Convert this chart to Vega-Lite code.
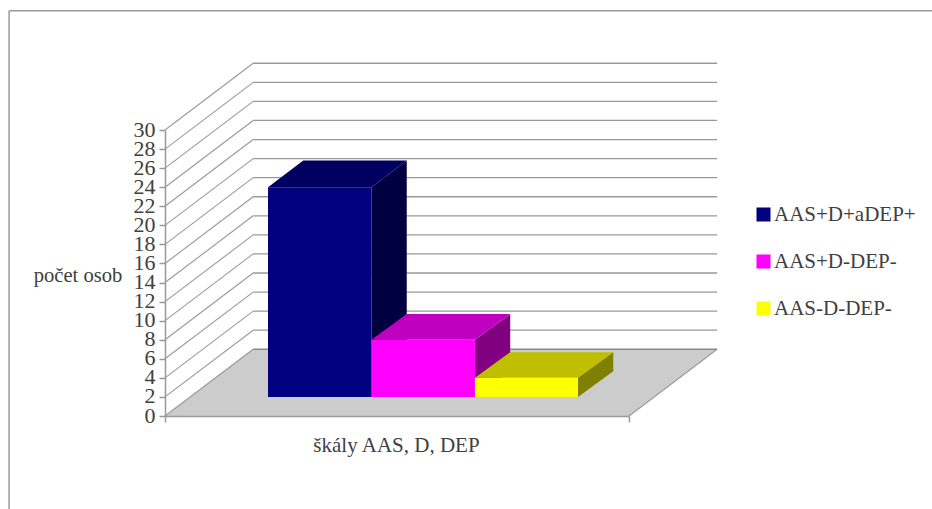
{
  "$schema": "https://vega.github.io/schema/vega-lite/v6.json",
  "width": 464,
  "height": 286,
  "autosize": {"type": "none"},
  "padding": {"left": 165, "top": 130, "right": 303, "bottom": 93},
  "background": "white",
  "config": {
    "view": {"stroke": null},
    "font": "Liberation Serif"
  },
  "datasets": {
    "bars": [
      {"series": "AAS+D+aDEP+", "value": 22, "from": 22.2, "to": 44.5},
      {"series": "AAS+D-DEP-", "value": 6, "from": 44.5, "to": 66.8},
      {"series": "AAS-D-DEP-", "value": 2, "from": 66.8, "to": 89}
    ],
    "faces": [
      {"face": "blue side", "along": 44.5, "low": 0, "high": 22},
      {"face": "blue side", "along": 52.1, "low": 2.7, "high": 24.8},
      {"face": "blue top", "along": 22.2, "low": 22, "high": 22},
      {"face": "blue top", "along": 29.8, "low": 22, "high": 24.8},
      {"face": "blue top", "along": 44.5, "low": 22, "high": 24.8},
      {"face": "blue top", "along": 52.1, "low": 24.8, "high": 24.8},
      {"face": "magenta side", "along": 66.8, "low": 0, "high": 6},
      {"face": "magenta side", "along": 74.4, "low": 2.7, "high": 8.7},
      {"face": "magenta top", "along": 44.5, "low": 6, "high": 6},
      {"face": "magenta top", "along": 52.1, "low": 6, "high": 8.7},
      {"face": "magenta top", "along": 66.8, "low": 6, "high": 8.7},
      {"face": "magenta top", "along": 74.4, "low": 8.7, "high": 8.7},
      {"face": "yellow side", "along": 89, "low": 0, "high": 2},
      {"face": "yellow side", "along": 96.6, "low": 2.7, "high": 4.7},
      {"face": "yellow top", "along": 66.8, "low": 2, "high": 2},
      {"face": "yellow top", "along": 74.4, "low": 2, "high": 4.7},
      {"face": "yellow top", "along": 89, "low": 2, "high": 4.7},
      {"face": "yellow top", "along": 96.6, "low": 4.7, "high": 4.7}
    ],
    "floor": [
      {"along": 0, "low": 0, "high": 0},
      {"along": 19, "low": 0, "high": 7},
      {"along": 100, "low": 0, "high": 7},
      {"along": 119, "low": 7, "high": 7}
    ],
    "levels": [
      {"level": 0, "back": 7},
      {"level": 2, "back": 9},
      {"level": 4, "back": 11},
      {"level": 6, "back": 13},
      {"level": 8, "back": 15},
      {"level": 10, "back": 17},
      {"level": 12, "back": 19},
      {"level": 14, "back": 21},
      {"level": 16, "back": 23},
      {"level": 18, "back": 25},
      {"level": 20, "back": 27},
      {"level": 22, "back": 29},
      {"level": 24, "back": 31},
      {"level": 26, "back": 33},
      {"level": 28, "back": 35},
      {"level": 30, "back": 37}
    ],
    "frame": [
      {"x1": -33.6, "x2": 166, "y1": 42.5, "y2": 42.5},
      {"x1": -33.6, "x2": -33.6, "y1": 42.5, "y2": -10}
    ]
  },
  "layer": [
    {
      "description": "Outer frame of the drawing",
      "data": {"name": "frame"},
      "mark": {"type": "rule", "color": "#999999", "strokeWidth": 1.5},
      "encoding": {
        "x": {"field": "x1", "type": "quantitative", "scale": {"domain": [0, 100], "nice": false, "zero": false}, "axis": null},
        "x2": {"field": "x2"},
        "y": {"field": "y1", "type": "quantitative", "scale": {"domain": [0, 30], "nice": false, "zero": false}, "axis": null},
        "y2": {"field": "y2"}
      }
    },
    {
      "description": "Floor of the box, carrying both axes",
      "data": {"name": "floor"},
      "mark": {"type": "area", "orient": "vertical", "color": "#CCCCCC"},
      "encoding": {
        "x": {
          "field": "along",
          "type": "quantitative",
          "scale": {"domain": [0, 100], "nice": false, "zero": false},
          "axis": {
            "title": "škály AAS, D, DEP",
            "titleFont": "Liberation Serif",
            "titleFontSize": 21,
            "titleFontWeight": "normal",
            "titleColor": "#404040",
            "titleX": 231,
            "titleY": 18,
            "titleAlign": "center",
            "values": [0, 100],
            "labels": false,
            "grid": false,
            "domainColor": "#999999",
            "domainWidth": 1.5,
            "tickColor": "#999999",
            "tickSize": 6,
            "tickWidth": 1.5,
            "zindex": 1
          }
        },
        "y": {
          "field": "low",
          "type": "quantitative",
          "stack": null,
          "scale": {"domain": [0, 30], "nice": false, "zero": false},
          "axis": {
            "title": "počet osob",
            "titleFont": "Liberation Serif",
            "titleFontSize": 20.6,
            "titleFontWeight": "normal",
            "titleColor": "#404040",
            "titleAngle": 0,
            "titleAlign": "center",
            "titleBaseline": "middle",
            "titleX": -87.5,
            "titleY": 145,
            "values": [0, 2, 4, 6, 8, 10, 12, 14, 16, 18, 20, 22, 24, 26, 28, 30],
            "labelFont": "Liberation Serif",
            "labelFontSize": 22,
            "labelColor": "#404040",
            "labelPadding": 4,
            "labelOffset": -1,
            "labelOverlap": false,
            "labelBound": false,
            "labelFlush": false,
            "grid": false,
            "domainColor": "#999999",
            "domainWidth": 1.5,
            "tickColor": "#999999",
            "tickSize": 6,
            "tickWidth": 1.5,
            "zindex": 1
          }
        },
        "y2": {"field": "high"}
      }
    },
    {
      "description": "Gridlines along the back wall",
      "data": {"name": "levels"},
      "transform": [{"filter": "datum.level > 0"}],
      "mark": {"type": "rule", "color": "#999999", "strokeWidth": 1.3},
      "encoding": {
        "x": {"datum": 19, "type": "quantitative", "scale": {"domain": [0, 100], "nice": false, "zero": false}, "axis": null},
        "x2": {"datum": 119},
        "y": {"field": "back", "type": "quantitative", "scale": {"domain": [0, 30], "nice": false, "zero": false}, "axis": null}
      }
    },
    {
      "description": "Back edge of the floor",
      "data": {"name": "levels"},
      "transform": [{"filter": "datum.level == 0"}],
      "mark": {"type": "rule", "color": "#888888", "strokeWidth": 1.3},
      "encoding": {
        "x": {"datum": 19, "type": "quantitative", "scale": {"domain": [0, 100], "nice": false, "zero": false}, "axis": null},
        "x2": {"datum": 119},
        "y": {"field": "back", "type": "quantitative", "scale": {"domain": [0, 30], "nice": false, "zero": false}, "axis": null}
      }
    },
    {
      "description": "Slanted gridlines on the side wall",
      "data": {"name": "levels"},
      "mark": {"type": "rule", "color": "#999999", "strokeWidth": 1.1},
      "encoding": {
        "x": {"datum": 0, "type": "quantitative", "scale": {"domain": [0, 100], "nice": false, "zero": false}, "axis": null},
        "x2": {"datum": 19},
        "y": {"field": "level", "type": "quantitative", "scale": {"domain": [0, 30], "nice": false, "zero": false}, "axis": null},
        "y2": {"field": "back"}
      }
    },
    {
      "description": "Right edge of the floor",
      "data": {"name": "levels"},
      "transform": [{"filter": "datum.level == 0"}],
      "mark": {"type": "rule", "color": "#999999", "strokeWidth": 1.1},
      "encoding": {
        "x": {"datum": 100, "type": "quantitative", "scale": {"domain": [0, 100], "nice": false, "zero": false}, "axis": null},
        "x2": {"datum": 119},
        "y": {"field": "level", "type": "quantitative", "scale": {"domain": [0, 30], "nice": false, "zero": false}, "axis": null},
        "y2": {"field": "back"}
      }
    },
    {
      "description": "Top and side faces of the bars; heights count from the bar base",
      "data": {"name": "faces"},
      "mark": {"type": "area", "orient": "vertical"},
      "encoding": {
        "x": {"field": "along", "type": "quantitative", "scale": {"domain": [0, 100], "nice": false, "zero": false}, "axis": null},
        "y": {"field": "low", "type": "quantitative", "stack": null, "scale": {"domain": [-2, 28], "nice": false, "zero": false}, "axis": null},
        "y2": {"field": "high"},
        "color": {
          "field": "face",
          "type": "nominal",
          "legend": null,
          "scale": {
            "domain": ["blue side", "blue top", "magenta side", "magenta top", "yellow side", "yellow top"],
            "range": ["#000040", "#000060", "#800080", "#BF00BF", "#808000", "#BFBF00"]
          }
        }
      }
    },
    {
      "description": "Front faces of the bars, one per series",
      "data": {"name": "bars"},
      "mark": {"type": "rect"},
      "encoding": {
        "x": {"field": "from", "type": "quantitative", "scale": {"domain": [0, 100], "nice": false, "zero": false}, "axis": null},
        "x2": {"field": "to"},
        "y": {"field": "value", "type": "quantitative", "scale": {"domain": [-2, 28], "nice": false, "zero": false}, "axis": null},
        "y2": {"datum": 0},
        "color": {
          "field": "series",
          "type": "nominal",
          "scale": {
            "domain": ["AAS+D+aDEP+", "AAS+D-DEP-", "AAS-D-DEP-"],
            "range": ["#000080", "#FF00FF", "#FFFF00"]
          },
          "legend": {
            "title": null,
            "orient": "none",
            "legendX": 588,
            "legendY": 73,
            "padding": 0,
            "symbolType": "square",
            "symbolSize": 196,
            "symbolStrokeWidth": 0,
            "symbolOpacity": 1,
            "labelFont": "Liberation Serif",
            "labelFontSize": 21,
            "labelColor": "#404040",
            "labelOffset": 0,
            "labelLimit": 200,
            "rowPadding": 24,
            "clipHeight": 23
          }
        }
      }
    }
  ],
  "resolve": {"scale": {"y": "independent", "color": "independent"}, "axis": {"x": "independent"}}
}
